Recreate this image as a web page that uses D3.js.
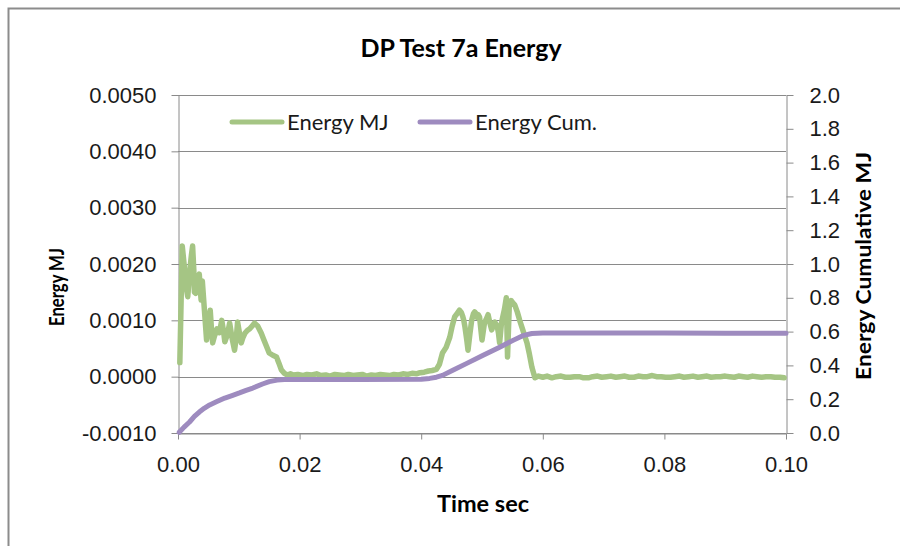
<!DOCTYPE html>
<html>
<head>
<meta charset="utf-8">
<script src="https://cdnjs.cloudflare.com/ajax/libs/d3/7.8.5/d3.min.js"></script>
<style>
body { margin: 0; background: #fff; }
svg { display: block; font-family: Lato, "Open Sans", sans-serif; }
.axis path, .axis line { stroke: #8a8a8a; }
.axis text { fill: #1a1a1a; }
</style>
</head>
<body>
<div id="chart"></div>
<script>
// Energy MJ (left axis)
var timeSec = [
    0.0003, 0.0007, 0.0010, 0.0012, 0.0014, 0.0016, 0.0018, 0.0020, 0.0022, 0.0024,
    0.0026, 0.0027, 0.0029, 0.0031, 0.0033, 0.0035, 0.0037, 0.0038, 0.0040, 0.0042,
    0.0044, 0.0047, 0.0050, 0.0053, 0.0055, 0.0057, 0.0060, 0.0064, 0.0068, 0.0072,
    0.0075, 0.0077, 0.0081, 0.0085, 0.0089, 0.0093, 0.0096, 0.0098, 0.0101, 0.0104,
    0.0107, 0.0110, 0.0114, 0.0118, 0.0122, 0.0126, 0.0131, 0.0137, 0.0141, 0.0144,
    0.0150, 0.0156, 0.0162, 0.0166, 0.0170, 0.0175, 0.0180, 0.0185, 0.0190, 0.0197,
    0.0205, 0.0212, 0.0220, 0.0228, 0.0235, 0.0243, 0.0250, 0.0258, 0.0265, 0.0273,
    0.0280, 0.0288, 0.0295, 0.0303, 0.0310, 0.0318, 0.0325, 0.0333, 0.0340, 0.0348,
    0.0355, 0.0363, 0.0370, 0.0378, 0.0385, 0.0392, 0.0398, 0.0405, 0.0412, 0.0418,
    0.0425, 0.0430, 0.0435, 0.0441, 0.0447, 0.0451, 0.0455, 0.0459, 0.0463, 0.0466,
    0.0468, 0.0470, 0.0472, 0.0475, 0.0477, 0.0480, 0.0483, 0.0486, 0.0488, 0.0490,
    0.0492, 0.0494, 0.0496, 0.0498, 0.0500, 0.0502, 0.0504, 0.0507, 0.0510, 0.0513,
    0.0516, 0.0519, 0.0521, 0.0523, 0.0525, 0.0527, 0.0529, 0.0532, 0.0535, 0.0537,
    0.0540, 0.0542, 0.0545, 0.0548, 0.0550, 0.0554, 0.0558, 0.0562, 0.0568, 0.0574,
    0.0578, 0.0582, 0.0587, 0.0593, 0.0600, 0.0607, 0.0615, 0.0622, 0.0630, 0.0637,
    0.0645, 0.0652, 0.0660, 0.0667, 0.0675, 0.0682, 0.0690, 0.0697, 0.0705, 0.0712,
    0.0720, 0.0727, 0.0735, 0.0742, 0.0750, 0.0757, 0.0765, 0.0772, 0.0780, 0.0787,
    0.0795, 0.0802, 0.0810, 0.0817, 0.0825, 0.0832, 0.0840, 0.0847, 0.0855, 0.0862,
    0.0870, 0.0877, 0.0885, 0.0892, 0.0900, 0.0907, 0.0915, 0.0922, 0.0930, 0.0937,
    0.0945, 0.0952, 0.0960, 0.0967, 0.0975, 0.0982, 0.0990, 0.0997
];
var energyMJ = [
    0.00025, 0.00232, 0.00200, 0.00175, 0.00155, 0.00142, 0.00168, 0.00195, 0.00215, 0.00232,
    0.00190, 0.00150, 0.00148, 0.00160, 0.00172, 0.00182, 0.00150, 0.00136, 0.00170, 0.00140,
    0.00110, 0.00065, 0.00098, 0.00118, 0.00085, 0.00060, 0.00072, 0.00085, 0.00078, 0.00100,
    0.00080, 0.00062, 0.00074, 0.00095, 0.00068, 0.00047, 0.00070, 0.00097, 0.00078, 0.00060,
    0.00070, 0.00077, 0.00082, 0.00085, 0.00090, 0.00095, 0.00090, 0.00077, 0.00066, 0.00058,
    0.00042, 0.00038, 0.00035, 0.00024, 0.00012, 0.00006, 0.00003, 0.00005, 0.00003, 0.00004,
    0.00002, 0.00004, 0.00003, 0.00005, 0.00002, 0.00003, 0.00001, 0.00004, 0.00003, 0.00002,
    0.00004, 0.00002, 0.00003, 0.00004, 0.00001, 0.00003, 0.00002, 0.00004, 0.00003, 0.00002,
    0.00004, 0.00003, 0.00005, 0.00004, 0.00006, 0.00005, 0.00007, 0.00008, 0.00010, 0.00011,
    0.00013, 0.00022, 0.00042, 0.00052, 0.00070, 0.00090, 0.00106, 0.00112, 0.00118, 0.00114,
    0.00108, 0.00100, 0.00088, 0.00065, 0.00047, 0.00075, 0.00100, 0.00112, 0.00115, 0.00112,
    0.00105, 0.00110, 0.00106, 0.00085, 0.00065, 0.00080, 0.00095, 0.00102, 0.00110, 0.00095,
    0.00083, 0.00092, 0.00097, 0.00093, 0.00090, 0.00078, 0.00060, 0.00095, 0.00110, 0.00120,
    0.00140, 0.00035, 0.00130, 0.00135, 0.00132, 0.00127, 0.00115, 0.00100, 0.00080, 0.00060,
    0.00040, 0.00017, -0.00002, 0.00001, -0.00001, 0.00001, -0.00002, 0.00000, 0.00001, -0.00001,
    -0.00001, 0.00000, 0.00000, -0.00002, -0.00002, 0.00000, 0.00001, -0.00001, 0.00000, 0.00001,
    -0.00001, 0.00000, 0.00001, -0.00001, -0.00001, 0.00001, 0.00000, 0.00000, 0.00002, 0.00000,
    0.00000, -0.00001, -0.00001, 0.00000, 0.00001, -0.00001, 0.00000, 0.00001, -0.00001, 0.00000,
    0.00001, -0.00001, 0.00000, 0.00000, 0.00001, 0.00000, -0.00001, 0.00001, 0.00000, -0.00001,
    0.00001, 0.00000, -0.00001, 0.00000, 0.00000, -0.00001, -0.00001, -0.00002
];

// Energy Cum. (right axis)
var cumTime = [
    0.0002, 0.0010, 0.0019, 0.0027, 0.0035, 0.0043, 0.0052, 0.0064, 0.0077, 0.0090,
    0.0101, 0.0112, 0.0123, 0.0139, 0.0150, 0.0163, 0.0175, 0.0200, 0.0300, 0.0400,
    0.0414, 0.0425, 0.0435, 0.0452, 0.0475, 0.0501, 0.0529, 0.0551, 0.0567, 0.0582,
    0.0600, 0.0800, 0.0900, 0.1000
];
var cumMJ = [
    0.004, 0.035, 0.065, 0.098, 0.124, 0.146, 0.166, 0.186, 0.207, 0.223,
    0.237, 0.252, 0.266, 0.290, 0.304, 0.313, 0.316, 0.316, 0.316, 0.318,
    0.323, 0.330, 0.341, 0.371, 0.412, 0.458, 0.508, 0.548, 0.576, 0.589,
    0.591, 0.591, 0.590, 0.590
];

var leftTicks = [-0.001, 0, 0.001, 0.002, 0.003, 0.004, 0.005];
var rightTicks = [0, 0.2, 0.4, 0.6, 0.8, 1.0, 1.2, 1.4, 1.6, 1.8, 2.0];
var timeTicks = [0, 0.02, 0.04, 0.06, 0.08, 0.10];

var seriesNames = ['Energy MJ', 'Energy Cum.'];
var seriesColors = ['#a5c584', '#9e8bbf'];

var width = 900, height = 546;
var plot = { left: 178, right: 786, top: 95, bottom: 433 };

// plain hyphen for negatives, like the original
var fmt = function(spec) {
    var f = d3.format(spec);
    return function(d) { return f(d).replace('\u2212', '-'); };
};

var svg = d3.select('#chart').append('svg')
    .attr('width', width)
    .attr('height', height);

// chart frame (runs off the right and bottom edges)
svg.append('path')
    .attr('d', 'M8.5,' + height + 'V8.5H' + width)
    .attr('fill', 'none')
    .attr('stroke', '#8c8c8c')
    .attr('stroke-width', 2);

var x = d3.scaleLinear().domain([0, 0.1]).range([plot.left, plot.right]);
var yL = d3.scaleLinear().domain([-0.001, 0.005]).range([plot.bottom, plot.top]);
var yR = d3.scaleLinear().domain([0, 2]).range([plot.bottom, plot.top]);

// gridlines
svg.append('g').selectAll('line')
    .data(leftTicks)
    .enter().append('line')
    .attr('x1', plot.left).attr('x2', plot.right)
    .attr('y1', function(d) { return Math.round(yL(d)) + 0.5; })
    .attr('y2', function(d) { return Math.round(yL(d)) + 0.5; })
    .attr('stroke', '#8a8a8a')
    .attr('stroke-width', 1);

var leftAxis = d3.axisLeft(yL)
    .tickValues(leftTicks)
    .tickSize(7).tickSizeOuter(0)
    .tickPadding(15)
    .tickFormat(fmt('.4f'));
svg.append('g')
    .attr('class', 'axis')
    .attr('transform', 'translate(' + (plot.left + 0.5) + ',0)')
    .call(leftAxis)
    .call(function(g) { g.selectAll('text').style('font-size', '22px'); });

var rightAxis = d3.axisRight(yR)
    .tickValues(rightTicks)
    .tickSize(7).tickSizeOuter(0)
    .tickPadding(16)
    .tickFormat(fmt('.1f'));
svg.append('g')
    .attr('class', 'axis')
    .attr('transform', 'translate(' + (plot.right + 0.5) + ',0)')
    .call(rightAxis)
    .call(function(g) { g.selectAll('text').style('font-size', '22px'); });

var bottomAxis = d3.axisBottom(x)
    .tickValues(timeTicks)
    .tickSize(6).tickSizeOuter(0)
    .tickPadding(17)
    .tickFormat(fmt('.2f'));
svg.append('g')
    .attr('class', 'axis')
    .attr('transform', 'translate(0,' + (plot.bottom + 0.5) + ')')
    .call(bottomAxis)
    .call(function(g) { g.selectAll('text').style('font-size', '22px'); });

// series
var energyLine = d3.line()
    .x(function(d, i) { return x(timeSec[i]); })
    .y(function(d) { return yL(d); });
var cumLine = d3.line()
    .x(function(d, i) { return x(cumTime[i]); })
    .y(function(d) { return yR(d); });

svg.append('path')
    .datum(energyMJ)
    .attr('d', energyLine)
    .attr('fill', 'none')
    .attr('stroke', seriesColors[0])
    .attr('stroke-width', 5.5)
    .attr('stroke-linejoin', 'round')
    .attr('stroke-linecap', 'round');

svg.append('path')
    .datum(cumMJ)
    .attr('d', cumLine)
    .attr('fill', 'none')
    .attr('stroke', seriesColors[1])
    .attr('stroke-width', 5)
    .attr('stroke-linejoin', 'round')
    .attr('stroke-linecap', 'round');

// legend
var legendX = [232, 420];
var legend = svg.append('g').selectAll('g')
    .data(seriesNames)
    .enter().append('g')
    .attr('transform', function(d, i) { return 'translate(' + legendX[i] + ',122)'; });
legend.append('line')
    .attr('x1', 0).attr('x2', 50)
    .attr('stroke', function(d, i) { return seriesColors[i]; })
    .attr('stroke-width', 5)
    .attr('stroke-linecap', 'round');
legend.append('text')
    .attr('x', 55).attr('dy', '0.35em')
    .style('font-size', '22px')
    .attr('fill', '#1a1a1a')
    .text(function(d) { return d; });

// titles
svg.append('text')
    .attr('x', 461).attr('y', 57)
    .attr('text-anchor', 'middle')
    .style('font-size', '25px').style('font-weight', 'bold')
    .text('DP Test 7a Energy');

svg.append('text')
    .attr('x', 483).attr('y', 512)
    .attr('text-anchor', 'middle')
    .style('font-size', '23.5px').style('font-weight', 'bold')
    .text('Time sec');

svg.append('text')
    .attr('transform', 'translate(64,287) rotate(-90)')
    .attr('text-anchor', 'middle')
    .style('font-size', '20px').style('font-weight', 'bold')
    .attr('textLength', 78).attr('lengthAdjust', 'spacingAndGlyphs')
    .text('Energy MJ');

svg.append('text')
    .attr('transform', 'translate(871,266) rotate(-90)')
    .attr('text-anchor', 'middle')
    .style('font-size', '20px').style('font-weight', 'bold')
    .attr('textLength', 228).attr('lengthAdjust', 'spacingAndGlyphs')
    .text('Energy Cumulative MJ');
</script>
</body>
</html>
